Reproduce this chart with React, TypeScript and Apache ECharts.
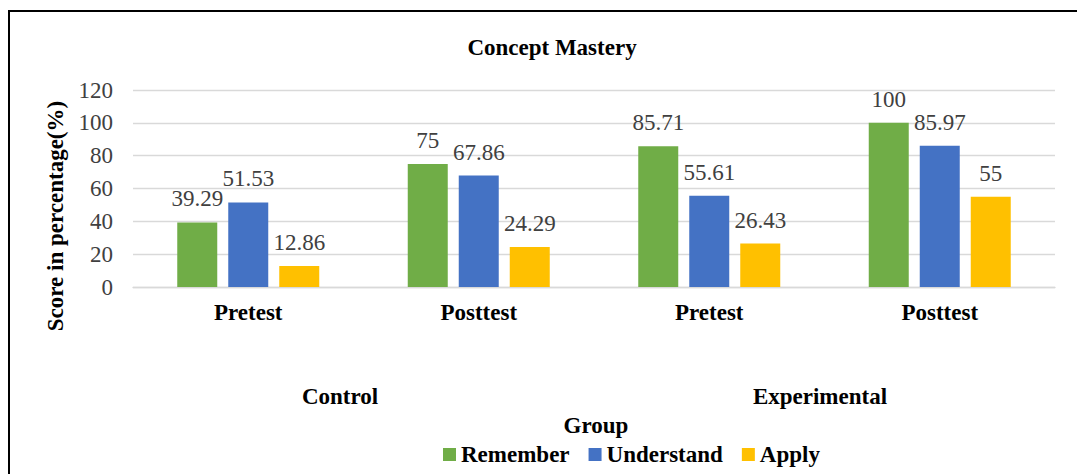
import React, { useEffect, useRef } from "react";
import * as echarts from "echarts";

const categories = ["Pretest", "Posttest", "Pretest", "Posttest"];
const groups = ["Control", "Experimental"];
const seriesNames = ["Remember", "Understand", "Apply"];
const remember = [39.29, 75, 85.71, 100];
const understand = [51.53, 67.86, 55.61, 85.97];
const apply = [12.86, 24.29, 26.43, 55];
const colors = ["#70AD47", "#4472C4", "#FFC000"];

const FONT = "'Liberation Serif', 'Times New Roman', serif";

export default function App() {
  const ref = useRef<HTMLDivElement>(null);
  useEffect(() => {
    document.body.style.margin = "0";
    if (!ref.current) return;
    const chart = echarts.init(ref.current, undefined, { renderer: "svg" });
    const values = [remember, understand, apply];
    chart.setOption({
      animation: false,
      backgroundColor: "#ffffff",
      textStyle: { fontFamily: FONT },
      title: {
        text: "Concept Mastery",
        left: 547,
        top: 31,
        textAlign: "center",
        textStyle: { fontFamily: FONT, fontWeight: "bold", fontSize: 23, color: "#000", lineHeight: 23 },
      },
      legend: {
        data: seriesNames,
        left: 438,
        top: 438,
        itemWidth: 13,
        itemHeight: 13,
        itemGap: 19,
        icon: "rect",
        textStyle: { fontFamily: FONT, fontWeight: "bold", fontSize: 23, color: "#000", lineHeight: 23 },
      },
      grid: { left: 133, right: 22, top: 90, bottom: 187 },
      xAxis: {
        type: "category",
        data: categories,
        axisLine: { lineStyle: { color: "#d9d9d9", width: 1.3 } },
        axisTick: { show: false },
        axisLabel: {
          margin: 14,
          fontFamily: FONT,
          fontWeight: "bold",
          fontSize: 23,
          lineHeight: 23,
          color: "#000",
        },
      },
      yAxis: {
        type: "value",
        min: 0,
        max: 120,
        interval: 20,
        axisLine: { show: false },
        axisTick: { show: false },
        splitLine: { lineStyle: { color: "#d9d9d9", width: 1.3 } },
        axisLabel: { margin: 20, fontFamily: FONT, fontWeight: "normal", fontSize: 23, color: "#404040" },
      },
      graphic: [
        {
          type: "rect",
          shape: { x: 9, y: 11, width: 1300, height: 700 },
          style: { fill: "none", stroke: "#000", lineWidth: 2 },
          silent: true,
        },
        {
          type: "text",
          x: 55,
          y: 216,
          rotation: Math.PI / 2,
          style: {
            text: "Score in percentage(%)",
            fontFamily: FONT,
            fontWeight: "bold",
            fontSize: 23,
            fill: "#000",
            align: "center",
            verticalAlign: "middle",
          },
        },
        {
          type: "text",
          x: 340,
          y: 396,
          style: {
            text: groups[0],
            fontFamily: FONT,
            fontWeight: "bold",
            fontSize: 23,
            fill: "#000",
            align: "center",
            verticalAlign: "middle",
          },
        },
        {
          type: "text",
          x: 820,
          y: 396,
          style: {
            text: groups[1],
            fontFamily: FONT,
            fontWeight: "bold",
            fontSize: 23,
            fill: "#000",
            align: "center",
            verticalAlign: "middle",
          },
        },
        {
          type: "text",
          x: 596,
          y: 425,
          style: {
            text: "Group",
            fontFamily: FONT,
            fontWeight: "bold",
            fontSize: 23,
            fill: "#000",
            align: "center",
            verticalAlign: "middle",
          },
        },
      ],
      series: seriesNames.map((name, i) => ({
        name,
        type: "bar",
        data: values[i],
        barWidth: 40,
        barGap: "27.5%",
        itemStyle: { color: colors[i] },
        label: {
          show: true,
          position: "top",
          distance: 12,
          fontFamily: FONT,
          fontWeight: "normal",
          fontSize: 23,
          color: "#404040",
        },
      })),
    });
    return () => chart.dispose();
  }, []);
  return <div ref={ref} style={{ width: 1077, height: 474 }} />;
}
